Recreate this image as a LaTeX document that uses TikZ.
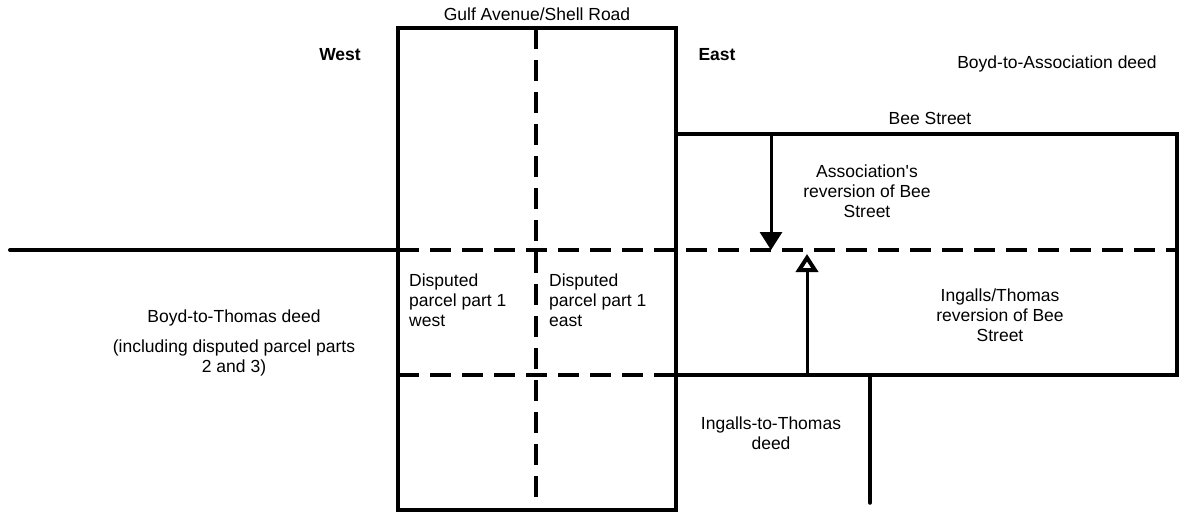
\documentclass[tikz,border=0pt]{standalone}
\usepackage{fontspec}
\setmainfont{Liberation Sans}
\usetikzlibrary{arrows.meta}
\begin{document}
\begin{tikzpicture}[x=1pt,y=-1pt,
  solidln/.style={line width=4pt},
  dashln/.style={line width=4pt, dash pattern=on 21pt off 11pt},
  lbl/.style={font=\fontsize{17.5}{20}\selectfont, inner sep=0pt, align=center},
  arr/.style={line width=3pt, -{Triangle[open, length=18pt, width=22pt, line width=4pt]}},
  arrf/.style={line width=3pt, -{Triangle[length=18pt, width=22pt]}}]
\useasboundingbox (0,0) rectangle (1182,512);
% corners
\coordinate (GNW) at (398,28);
\coordinate (GNE) at (676,28);
\coordinate (GSW) at (398,510);
\coordinate (GSE) at (676,510);
\coordinate (GMN) at (536,28);
\coordinate (GMS) at (536,510);
\coordinate (LW) at (10,250);
\coordinate (MW) at (398,250);
\coordinate (ME) at (1177,250);
\coordinate (DW) at (398,375);
\coordinate (DE) at (676,375);
\coordinate (ENW) at (676,134);
\coordinate (ENE) at (1177,134);
\coordinate (ESE) at (1177,375);
\coordinate (ESW) at (676,375);
\coordinate (A1s) at (771,134);
\coordinate (A1e) at (771,250);
\coordinate (A2s) at (807,375);
\coordinate (A2e) at (807,254);
\coordinate (Vs) at (870,375);
\coordinate (Ve) at (870,503);
% lines
\draw[solidln] (GNW) rectangle (GSE);
\draw[dashln] (GMN) -- (GMS);
\draw[solidln, line cap=round] (LW) -- (MW);
\draw[dashln] (MW) -- (ME);
\draw[dashln] (DW) -- (DE);
\draw[solidln] (ENW) -- (ENE) -- (ESE) -- (ESW);
\draw[arrf] (A1s) -- (A1e);
\draw[arr] (A2s) -- (A2e);
\draw[line width=3.5pt, line cap=round] (Vs) -- (Ve);
% labels
\node[lbl] (gulf) at (537,14) {Gulf Avenue/Shell Road};
\node[lbl, font=\fontsize{17.5}{20}\selectfont\bfseries] (west) at (340,55) {West};
\node[lbl, font=\fontsize{17.5}{20}\selectfont\bfseries] (east) at (717,55) {East};
\node[lbl] (bta) at (1057,64) {Boyd-to-Association deed};
\node[lbl] (bee) at (930,118) {Bee Street};
\node[lbl] (assoc) at (867,191) {Association\textquotesingle s\\reversion of Bee\\Street};
\node[lbl, align=left, anchor=west] (dw) at (409,300) {Disputed\\parcel part 1\\west};
\node[lbl, align=left, anchor=west] (de) at (549,300) {Disputed\\parcel part 1\\east};
\node[lbl] (ingrev) at (1000,315) {Ingalls/Thomas\\reversion of Bee\\Street};
\node[lbl] (btt) at (234,318) {Boyd-to-Thomas deed};
\node[lbl] (incl) at (234,358) {(including disputed parcel parts\\2 and 3)};
\node[lbl] (itt) at (771,433) {Ingalls-to-Thomas\\deed};
\end{tikzpicture}
\end{document}
